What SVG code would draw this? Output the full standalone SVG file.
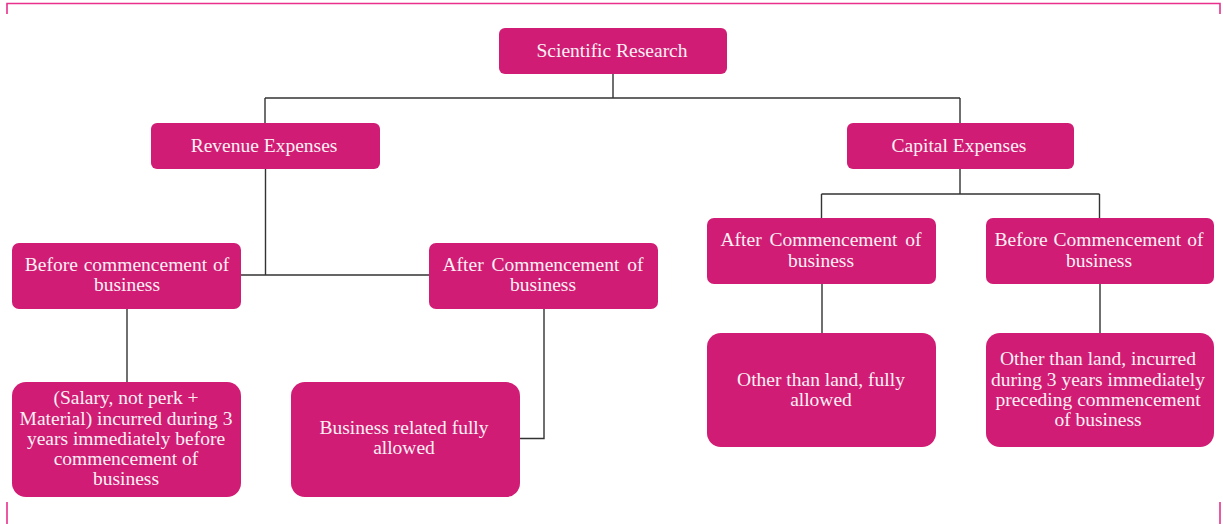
<svg xmlns="http://www.w3.org/2000/svg" width="1223" height="524" viewBox="0 0 1223 524">
<style>
.box{fill:#d01c74;}
.t{font-family:'Liberation Serif','Times New Roman',serif;font-size:19.5px;fill:#fdf0f5;text-anchor:middle;}
.c{fill:none;stroke:#333;stroke-width:1.4;}
.frame{fill:none;stroke:#e8308c;stroke-width:1.6;}
</style>
<rect width="1223" height="524" fill="#ffffff"/>
<g id="frame">
<path class="frame" d="M7,14 V3.5 H1220 V14"/>
<path class="frame" d="M7,502 V524 M1220,502 V524"/>
</g>
<g id="connectors">
<path class="c" d="M613,74 V98 M265,98 H960 M265,98 V123 M960,98 V123"/>
<path class="c" d="M265.5,169 V275 M241,275 H429"/>
<path class="c" d="M127,309 V382"/>
<path class="c" d="M544,309 V438.5 H520"/>
<path class="c" d="M960,169 V194 M821.5,194 H1099.5 M821.5,194 V218 M1099.5,194 V218"/>
<path class="c" d="M822,284 V333 M1100,284 V333"/>
</g>
<g id="n_scientific">
<rect class="box" x="499" y="28" width="228" height="46" rx="6"/>
<text class="t" x="612" y="57">Scientific Research</text>
</g>
<g id="n_revenue">
<rect class="box" x="151" y="123" width="229" height="46" rx="6"/>
<text class="t" x="264" y="152">Revenue Expenses</text>
</g>
<g id="n_capital">
<rect class="box" x="847" y="123" width="227" height="46" rx="6"/>
<text class="t" x="959" y="152">Capital Expenses</text>
</g>
<g id="n_rev_before">
<rect class="box" x="12" y="243" width="229" height="66" rx="7"/>
<text class="t" x="127" y="271" word-spacing="1">Before commencement of</text>
<text class="t" x="127" y="291">business</text>
</g>
<g id="n_rev_after">
<rect class="box" x="429" y="243" width="229" height="66" rx="7"/>
<text class="t" x="543" y="271" word-spacing="3">After Commencement of</text>
<text class="t" x="543" y="291">business</text>
</g>
<g id="n_cap_after">
<rect class="box" x="707" y="218" width="229" height="66" rx="7"/>
<text class="t" x="821" y="246" word-spacing="3">After Commencement of</text>
<text class="t" x="821" y="266.5">business</text>
</g>
<g id="n_cap_before">
<rect class="box" x="986" y="218" width="228" height="66" rx="7"/>
<text class="t" x="1099" y="246" word-spacing="1">Before Commencement of</text>
<text class="t" x="1099" y="266.5">business</text>
</g>
<g id="n_salary">
<rect class="box" x="12" y="382" width="229" height="115" rx="14"/>
<text class="t" x="126" y="404">(Salary, not perk +</text>
<text class="t" x="126" y="424.5">Material) incurred during 3</text>
<text class="t" x="126" y="445">years immediately before</text>
<text class="t" x="126" y="465">commencement of</text>
<text class="t" x="126" y="485">business</text>
</g>
<g id="n_business">
<rect class="box" x="291" y="382" width="229" height="115" rx="14"/>
<text class="t" x="404" y="434">Business related fully</text>
<text class="t" x="404" y="454">allowed</text>
</g>
<g id="n_other_fully">
<rect class="box" x="707" y="333" width="229" height="114" rx="14"/>
<text class="t" x="821" y="386">Other than land, fully</text>
<text class="t" x="821" y="406">allowed</text>
</g>
<g id="n_other_incurred">
<rect class="box" x="986" y="333" width="228" height="114" rx="14"/>
<text class="t" x="1098" y="365">Other than land, incurred</text>
<text class="t" x="1098" y="385.5">during 3 years immediately</text>
<text class="t" x="1098" y="406">preceding commencement</text>
<text class="t" x="1098" y="426">of business</text>
</g>
</svg>
